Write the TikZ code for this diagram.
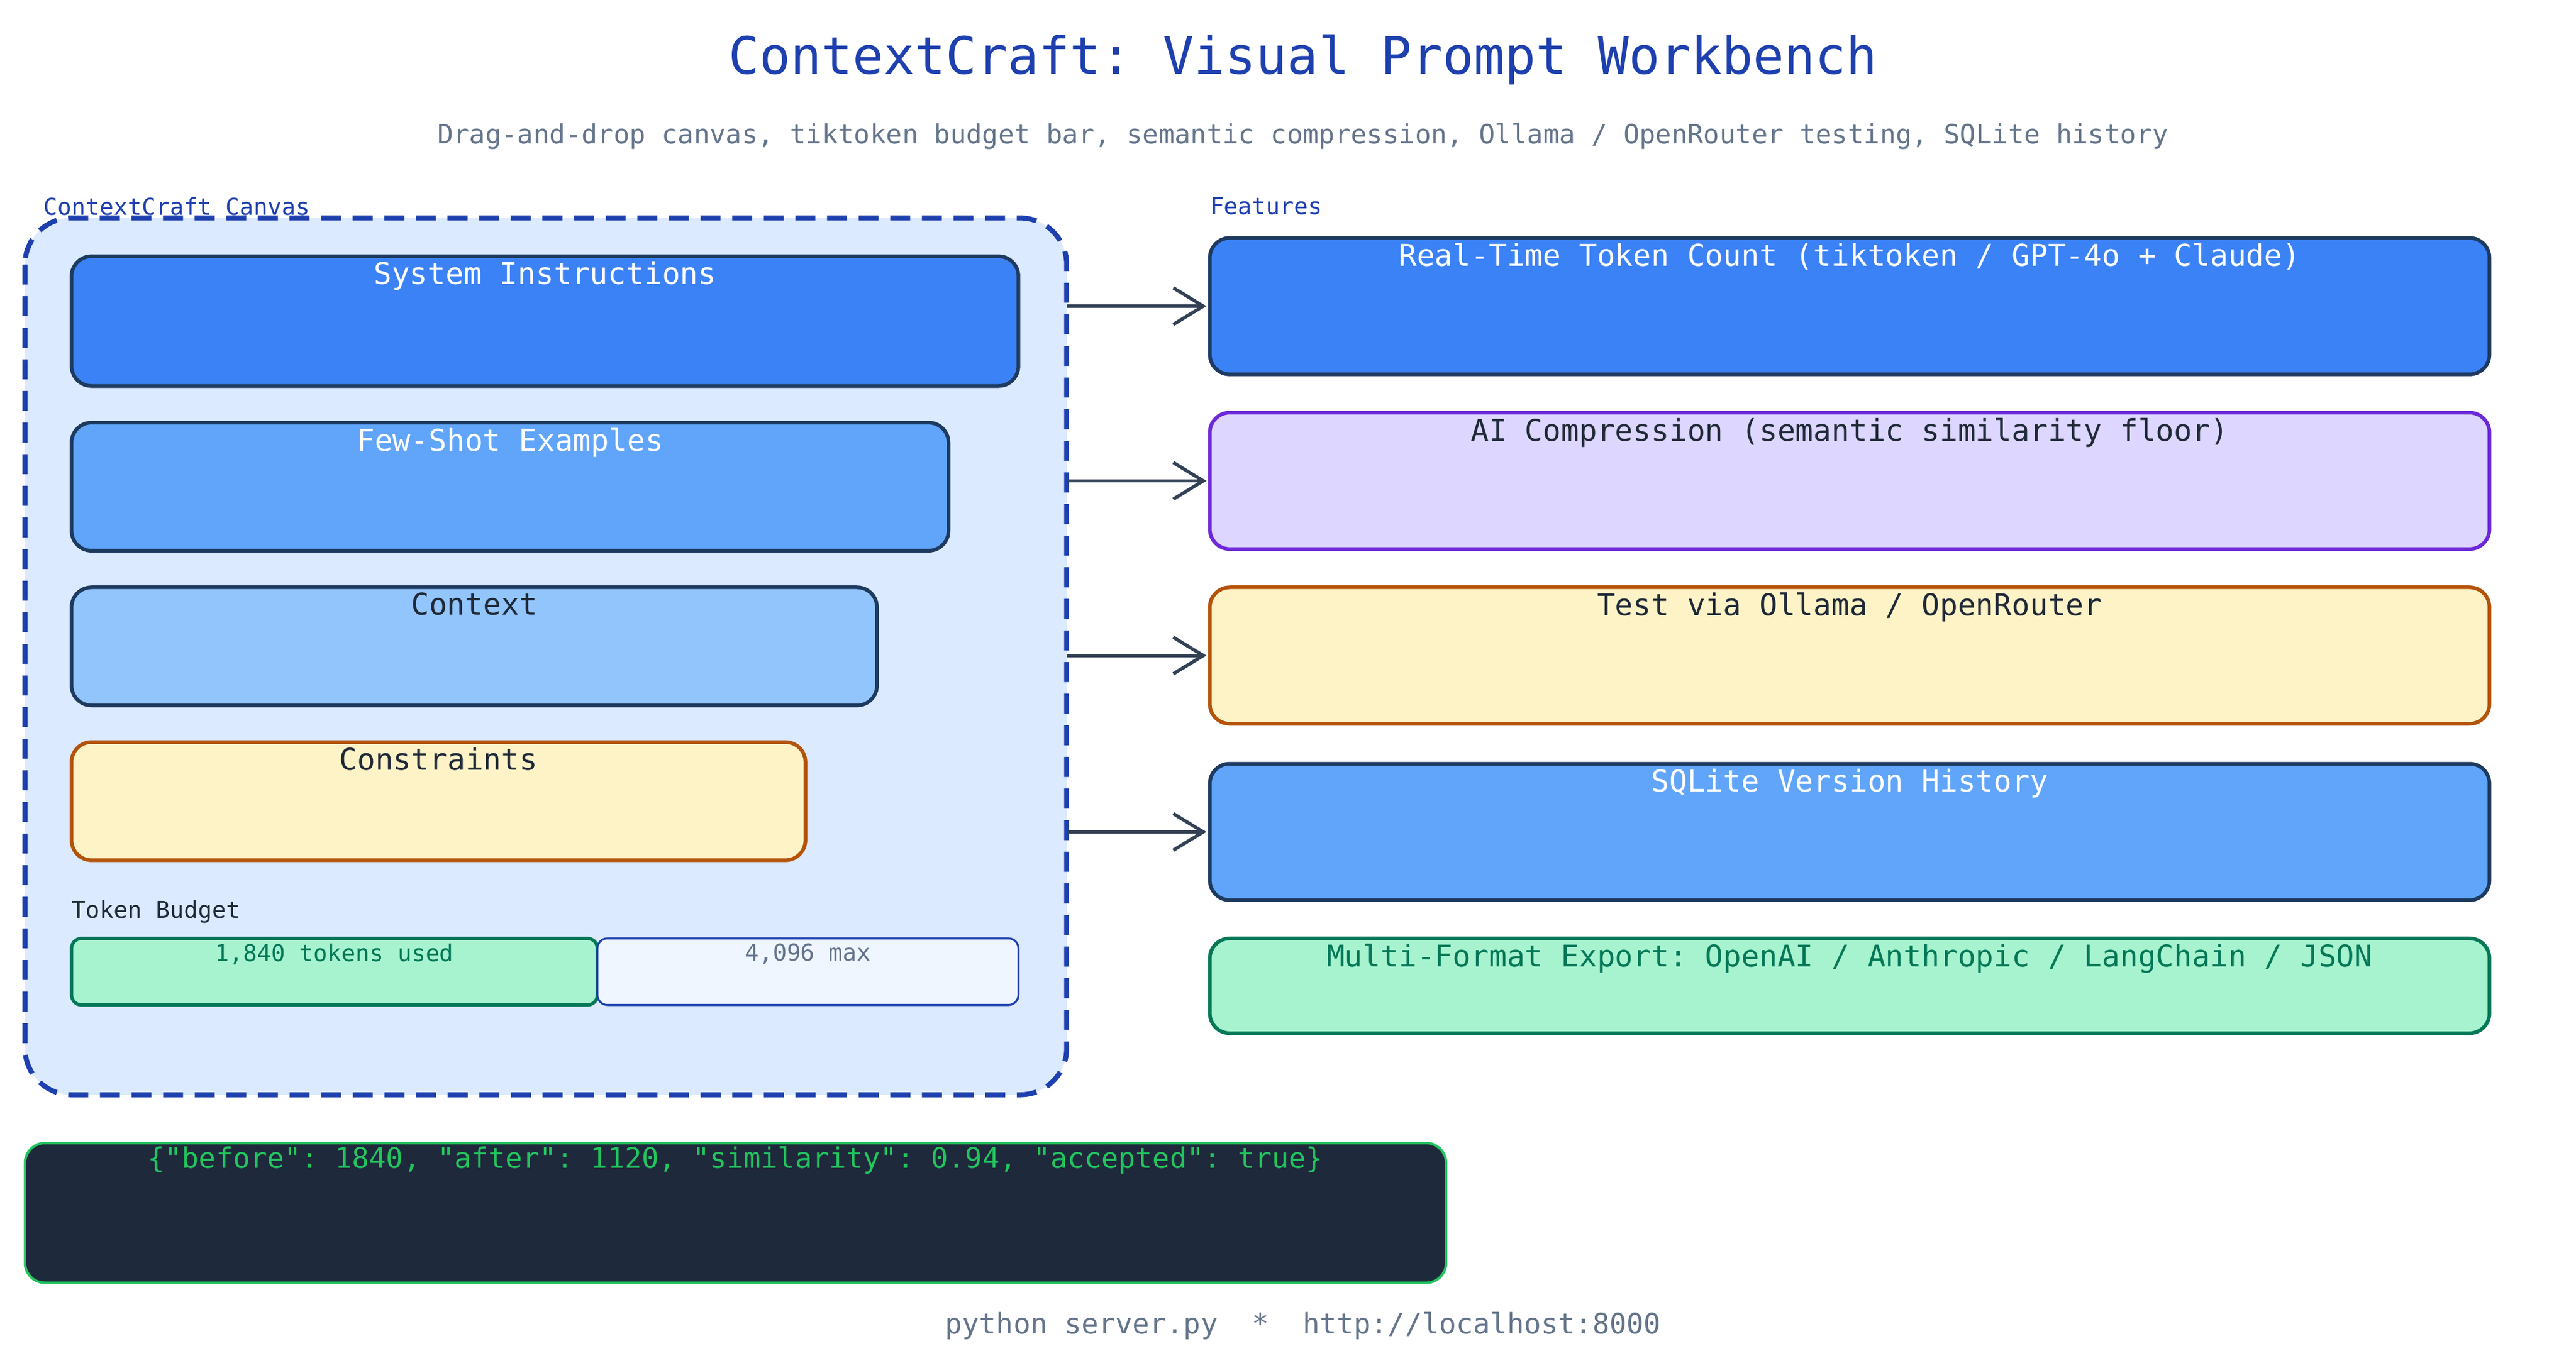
\documentclass[tikz,border=0pt]{standalone}
\usepackage{fontspec}
\setmonofont{DejaVu Sans Mono}
\usetikzlibrary{arrows.meta}
\definecolor{navy}{HTML}{1E40AF}
\definecolor{slate}{HTML}{64748B}
\definecolor{dk}{HTML}{1E3A5F}
\definecolor{txt}{HTML}{1F2937}
\definecolor{arr}{HTML}{334155}
\newcommand{\fs}[1]{\fontsize{#1}{#1}\selectfont}
\tikzset{
  bx/.style={rounded corners=12pt, line width=2.2pt},
  lbl/.style={anchor=north, font=\ttfamily\fs{18}, inner sep=0pt},
  conn/.style={draw=arr, line width=2pt, -{Straight Barb[length=18pt,width=22pt,line width=2pt]}},
}
\begin{document}
\begin{tikzpicture}[x=1pt,y=-1pt]
\useasboundingbox (0,0) rectangle (1548,822);
\fill[white] (0,0) rectangle (1548,822);
\node[font=\ttfamily\fs{31}, text=navy] (title) at (783,36) {ContextCraft: Visual Prompt Workbench};
\node[font=\ttfamily\fs{16}, text=slate] (sub) at (783,82) {Drag-and-drop canvas, tiktoken budget bar, semantic compression, Ollama / OpenRouter testing, SQLite history};
% canvas
\draw[fill=blue!10!white, fill={rgb,255:red,219;green,234;blue,254}, draw=navy, line width=3pt, dash pattern=on 12pt off 7pt, rounded corners=28pt] (15,131) rectangle (641,658);
\node[anchor=west, font=\ttfamily\fs{14}, text=navy, inner sep=0pt] (cl) at (26,124) {ContextCraft Canvas};
\path (641,184) coordinate (c1) (641,289) coordinate (c2) (641,394) coordinate (c3) (641,500) coordinate (c4);
\draw[bx, fill={rgb,255:red,59;green,130;blue,246}, draw=dk] (43,154) rectangle (612,232);
\node[lbl, text=white] (si) at (327.5,157) {System Instructions};
\draw[bx, fill={rgb,255:red,96;green,165;blue,250}, draw=dk] (43,254) rectangle (570,331);
\node[lbl, text=white] (fs) at (306.5,257) {Few-Shot Examples};
\draw[bx, fill={rgb,255:red,147;green,197;blue,253}, draw=dk] (43,353) rectangle (527,424);
\node[lbl, text=txt] (ctx) at (285,356) {Context};
\draw[bx, fill={rgb,255:red,254;green,243;blue,199}, draw={rgb,255:red,180;green,83;blue,9}] (43,446) rectangle (484,517);
\node[lbl, text=txt] (cons) at (263.5,449) {Constraints};
\node[anchor=west, font=\ttfamily\fs{14}, text=txt, inner sep=0pt] (tb) at (43,548) {Token Budget};
\draw[rounded corners=6pt, line width=2pt, fill={rgb,255:red,167;green,243;blue,208}, draw={rgb,255:red,4;green,120;blue,87}] (43,564) rectangle (359,604);
\node[anchor=north, inner sep=0pt, font=\ttfamily\fs{14}, text={rgb,255:red,4;green,120;blue,87}] (used) at (201,567) {1,840 tokens used};
\draw[rounded corners=6pt, line width=1.2pt, fill={rgb,255:red,239;green,246;blue,255}, draw=navy] (359,564) rectangle (612,604);
\node[anchor=north, inner sep=0pt, font=\ttfamily\fs{14}, text=slate] (max) at (485.5,567) {4,096 max};
% features
\node[anchor=west, font=\ttfamily\fs{14}, text=navy, inner sep=0pt] (fl) at (727,124) {Features};
\draw[bx, fill={rgb,255:red,59;green,130;blue,246}, draw=dk] (727,143) rectangle (1496,225);
\node[lbl, text=white] (f1) at (1111.5,146) {Real-Time Token Count (tiktoken / GPT-4o + Claude)};
\draw[bx, fill={rgb,255:red,221;green,214;blue,254}, draw={rgb,255:red,109;green,40;blue,217}] (727,248) rectangle (1496,330);
\node[lbl, text=txt] (f2) at (1111.5,251) {AI Compression (semantic similarity floor)};
\draw[bx, fill={rgb,255:red,254;green,243;blue,199}, draw={rgb,255:red,180;green,83;blue,9}] (727,353) rectangle (1496,435);
\node[lbl, text=txt] (f3) at (1111.5,356) {Test via Ollama / OpenRouter};
\draw[bx, fill={rgb,255:red,96;green,165;blue,250}, draw=dk] (727,459) rectangle (1496,541);
\node[lbl, text=white] (f4) at (1111.5,462) {SQLite Version History};
\draw[bx, fill={rgb,255:red,167;green,243;blue,208}, draw={rgb,255:red,4;green,120;blue,87}] (727,564) rectangle (1496,621);
\node[lbl, text={rgb,255:red,4;green,120;blue,87}] (f5) at (1111.5,567) {Multi-Format Export: OpenAI / Anthropic / LangChain / JSON};
\path (725,184) coordinate (t1) (725,289) coordinate (t2) (725,394) coordinate (t3) (725,500) coordinate (t4);
\draw[conn] (c1) -- (t1);
\draw[conn] (c2) -- (t2);
\draw[conn] (c3) -- (t3);
\draw[conn] (c4) -- (t4);
% json
\draw[rounded corners=12pt, line width=1.5pt, fill={rgb,255:red,30;green,41;blue,59}, draw={rgb,255:red,34;green,197;blue,94}] (15,687) rectangle (869,771);
\node[lbl, font=\ttfamily\fs{17}, text={rgb,255:red,34;green,197;blue,94}] (json) at (442,689) {\{"before": 1840, "after": 1120, "similarity": 0.94, "accepted": true\}};
\node[font=\ttfamily\fs{17}, text=slate] (foot) at (783,797) {python server.py\ \ *\ \ http://localhost:8000};
\end{tikzpicture}
\end{document}
